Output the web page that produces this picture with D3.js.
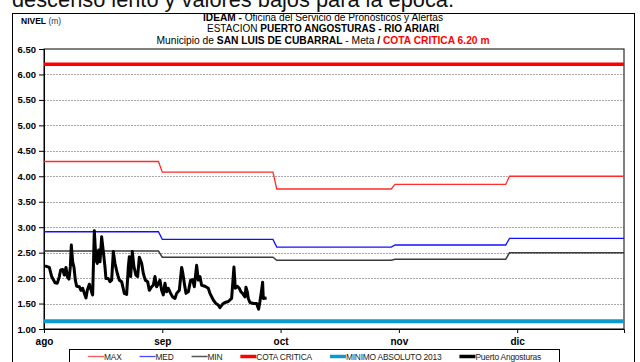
<!DOCTYPE html>
<html>
<head>
<meta charset="utf-8">
<script src="https://cdn.jsdelivr.net/npm/d3@7"></script>
<style>
  html, body { margin: 0; padding: 0; background: #fff; }
  svg { display: block; font-family: "Liberation Sans", Arial, sans-serif; }
</style>
</head>
<body>
<svg id="chart" width="640" height="362"></svg>
<script>
// ---- Datos ----
const mesesEtiquetas = ["ago", "sep", "oct", "nov", "dic"];
const nivelesEje = [1.0, 1.5, 2.0, 2.5, 3.0, 3.5, 4.0, 4.5, 5.0, 5.5, 6.0, 6.5];

// Inicio de cada mes del periodo
const mesesInicio = ["2014-08-01", "2014-09-01", "2014-10-01", "2014-11-01", "2014-12-01"];
const nivelMax = [4.29, 4.08, 3.75, 3.84, 4.00];
const nivelMed = [2.91, 2.76, 2.61, 2.65, 2.78];
const nivelMin = [2.53, 2.41, 2.35, 2.37, 2.50];

const cotaCritica = 6.20;
const minimoAbsoluto2013 = 1.15;

// Lecturas de la estacion Puerto Angosturas (dias desde el 1 de agosto, nivel en m)
const puertoDia = [0.26, 1.40, 2.01, 2.88, 3.49, 4.02, 4.37, 4.89, 5.33, 5.76, 6.11, 6.55, 6.90, 7.16, 7.51,
  7.86, 8.21, 8.56, 9.26, 9.69, 10.13, 10.57, 11.00, 11.35, 11.88, 12.23, 12.58, 12.75, 13.19, 13.62,
  13.97, 14.32, 14.67, 15.11, 15.55, 15.98, 16.24, 16.86, 17.29, 17.73, 18.17, 18.60, 19.21, 19.74, 20.35,
  21.05, 21.66, 22.10, 22.36, 22.71, 23.14, 23.58, 24.10, 24.54, 24.98, 25.59, 26.03, 26.55, 27.16, 27.60,
  28.21, 28.65, 29.08, 29.52, 30.04, 30.39, 30.83, 31.27, 31.70, 32.14, 32.58, 33.19, 33.71, 34.32, 34.76,
  35.46, 36.07, 36.33, 36.77, 37.21, 37.82, 38.43, 38.95, 39.39, 40.00, 40.44, 40.87, 41.31, 42.18, 43.06,
  43.49, 44.37, 45.07, 45.68, 46.11, 46.81, 47.42, 48.30, 49.17, 49.78, 50.13, 50.66, 51.18, 51.62, 52.05,
  52.66, 52.93, 53.28, 53.54, 53.97, 54.85, 55.72, 56.24, 56.59, 57.03, 57.29, 57.47, 58.34];
const puertoNivel = [2.24, 2.21, 2.03, 1.91, 1.90, 2.03, 2.16, 2.17, 2.06, 2.21, 2.03, 1.98, 2.22, 2.65, 2.32,
  2.21, 1.96, 1.84, 1.83, 1.76, 1.80, 1.70, 1.61, 1.76, 1.88, 1.80, 1.70, 1.67, 2.93, 2.35,
  2.29, 2.55, 2.32, 2.81, 2.52, 2.22, 1.99, 1.99, 1.93, 1.96, 2.52, 2.29, 2.09, 1.96, 1.93,
  1.70, 1.68, 2.22, 2.42, 2.03, 2.52, 2.22, 2.06, 2.03, 2.41, 2.29, 2.09, 1.96, 1.93, 1.76,
  1.83, 1.86, 2.03, 1.83, 1.90, 1.96, 1.76, 1.67, 1.90, 1.73, 1.80, 1.70, 1.63, 1.60, 1.70,
  1.76, 2.21, 2.12, 1.90, 1.70, 1.73, 1.96, 1.97, 1.83, 2.25, 1.96, 2.03, 1.86, 1.84, 1.80,
  1.70, 1.57, 1.50, 1.47, 1.42, 1.49, 1.52, 1.54, 1.60, 2.22, 1.80, 1.84, 1.80, 1.73, 1.70,
  1.63, 1.82, 1.73, 1.60, 1.52, 1.50, 1.50, 1.39, 1.54, 1.76, 1.92, 1.60, 1.61];

// ---- Geometria ----
const svg = d3.select("#chart");
const W = 640, H = 362;
const plot = { left: 44, right: 624, top: 49, bottom: 329 };

const parse = d3.utcParse("%Y-%m-%d");
const inicio = parse(mesesInicio[0]);
const fin = parse("2014-12-31");

const x = d3.scaleUtc().domain([inicio, fin]).range([plot.left, plot.right]);
const y = d3.scaleLinear().domain([1.0, 6.5]).range([plot.bottom, plot.top]);

// Fondo
svg.append("rect").attr("width", W).attr("height", H).attr("fill", "#fff");

// Texto superior (recortado por el borde de la imagen)
svg.append("text")
  .attr("x", 12).attr("y", 7)
  .attr("font-size", 22).attr("fill", "#111")
  .attr("textLength", 442).attr("lengthAdjust", "spacingAndGlyphs")
  .text("descenso lento y valores bajos para la época.");

// Marco exterior
svg.append("rect")
  .attr("x", 12.5).attr("y", 13.5).attr("width", 622).attr("height", 360)
  .attr("fill", "#fff").attr("stroke", "#000").attr("stroke-width", 1);

// Encabezado
svg.append("text").attr("x", 21).attr("y", 23.5).attr("font-size", 8.5)
  .call(t => {
    t.append("tspan").attr("font-weight", "bold").text("NIVEL");
    t.append("tspan").attr("fill", "#333").text(" (m)");
  });

const encabezado = [
  { y: 21, len: 240, parts: [["IDEAM - ", true, "#000"], ["Oficina del Servicio de Pronósticos y Alertas", false, "#000"]] },
  { y: 32.3, len: 232, parts: [["ESTACION ", false, "#000"], ["PUERTO ANGOSTURAS - RIO ARIARI", true, "#000"]] },
  { y: 43.6, len: 333, parts: [["Municipio de ", false, "#000"], ["SAN LUIS DE CUBARRAL", true, "#000"], [" - Meta  ", false, "#000"], ["/  ", true, "#000"], ["COTA CRITICA 6.20 m", true, "#ff0000"]] }
];
encabezado.forEach(l => {
  const t = svg.append("text")
    .attr("x", 323).attr("y", l.y).attr("text-anchor", "middle")
    .attr("font-size", 10)
    .attr("textLength", l.len).attr("lengthAdjust", "spacingAndGlyphs");
  l.parts.forEach(p => t.append("tspan")
    .attr("font-weight", p[1] ? "bold" : "normal")
    .attr("fill", p[2])
    .text(p[0]));
});

// Rejilla
svg.append("g").selectAll("line")
  .data(nivelesEje.filter(v => v > 1.0 && v < 6.5))
  .join("line")
  .attr("x1", plot.left).attr("x2", plot.right)
  .attr("y1", d => Math.round(y(d)) + 0.5).attr("y2", d => Math.round(y(d)) + 0.5)
  .attr("stroke", "#a8a8a8").attr("stroke-width", 1).attr("stroke-dasharray", "2,1");

// Marco del area de grafica
svg.append("rect")
  .attr("x", plot.left).attr("y", plot.top)
  .attr("width", plot.right - plot.left).attr("height", plot.bottom - plot.top)
  .attr("fill", "none").attr("stroke", "#000").attr("stroke-width", 1);

// Eje Y
const yAxis = d3.axisLeft(y).tickValues(nivelesEje).tickFormat(d3.format(".2f")).tickSize(5).tickPadding(3);
svg.append("g").attr("transform", `translate(${plot.left},0)`).call(yAxis)
  .call(g => g.select(".domain").attr("stroke", "#000"))
  .call(g => g.selectAll("text").attr("font-size", 9.5).attr("font-weight", "bold")
    .attr("fill", "#000").attr("font-family", "Liberation Sans, Arial, sans-serif"));

// Eje X: marcas cada 31 dias desde el 1 de agosto
const xTicks = mesesEtiquetas.map((_, i) => d3.utcDay.offset(inicio, 31 * i));
const xAxis = d3.axisBottom(x).tickValues(xTicks)
  .tickFormat((d, i) => mesesEtiquetas[i]).tickSize(4).tickPadding(5);
svg.append("g").attr("transform", `translate(0,${plot.bottom})`).call(xAxis)
  .call(g => g.select(".domain").attr("stroke", "#000"))
  .call(g => g.selectAll("text").attr("font-size", 10).attr("font-weight", "bold")
    .attr("fill", "#000").attr("font-family", "Liberation Sans, Arial, sans-serif"));

// Series mensuales escalonadas
function escalon(valores) {
  const pts = [];
  valores.forEach((v, i) => {
    const a = parse(mesesInicio[i]);
    const b = i + 1 < mesesInicio.length ? d3.utcDay.offset(parse(mesesInicio[i + 1]), -1) : fin;
    pts.push([a, v], [b, v]);
  });
  return pts;
}
const linea = d3.line().x(d => x(d[0])).y(d => y(d[1]));

const trazos = svg.append("g");

// Minimo absoluto 2013
trazos.append("path")
  .attr("d", linea([[inicio, minimoAbsoluto2013], [fin, minimoAbsoluto2013]]))
  .attr("stroke", "#0a9ad0").attr("stroke-width", 4).attr("fill", "none");

// Cota critica
trazos.append("path")
  .attr("d", linea([[inicio, cotaCritica], [fin, cotaCritica]]))
  .attr("stroke", "#ff0000").attr("stroke-width", 3.5).attr("fill", "none");

trazos.append("path").attr("d", linea(escalon(nivelMax)))
  .attr("stroke", "#ff2a2a").attr("stroke-width", 1.3).attr("fill", "none");
trazos.append("path").attr("d", linea(escalon(nivelMed)))
  .attr("stroke", "#1010ff").attr("stroke-width", 1.3).attr("fill", "none");
trazos.append("path").attr("d", linea(escalon(nivelMin)))
  .attr("stroke", "#3a3a3a").attr("stroke-width", 1.5).attr("fill", "none");

// Puerto Angosturas
const serie = puertoDia.map((d, i) => [new Date(inicio.getTime() + d * 864e5), puertoNivel[i]]);
trazos.append("path").attr("d", linea(serie))
  .attr("stroke", "#000").attr("stroke-width", 3).attr("fill", "none")
  .attr("stroke-linejoin", "round");

// Leyenda
const leyenda = [
  { label: "MAX", color: "#ff5a5a", w: 1.3 },
  { label: "MED", color: "#4a4aff", w: 1.3 },
  { label: "MIN", color: "#555", w: 1.5 },
  { label: "COTA CRITICA", color: "#ff0000", w: 3.5 },
  { label: "MINIMO ABSOLUTO 2013", color: "#0a9ad0", w: 3.5 },
  { label: "Puerto Angosturas", color: "#000", w: 3.5 }
];
svg.append("rect").attr("x", 69.5).attr("y", 349.5).attr("width", 490).attr("height", 20)
  .attr("fill", "#fff").attr("stroke", "#000").attr("stroke-width", 1);
let lx = 88;
const ly = 356.5;
leyenda.forEach(e => {
  svg.append("line").attr("x1", lx).attr("x2", lx + 16).attr("y1", ly).attr("y2", ly)
    .attr("stroke", e.color).attr("stroke-width", e.w);
  const t = svg.append("text").attr("x", lx + 16).attr("y", ly + 3)
    .attr("font-size", 8.4).attr("fill", "#222").attr("letter-spacing", -0.2).text(e.label);
  lx += 16 + t.node().getComputedTextLength() + 18;
});
</script>
</body>
</html>
